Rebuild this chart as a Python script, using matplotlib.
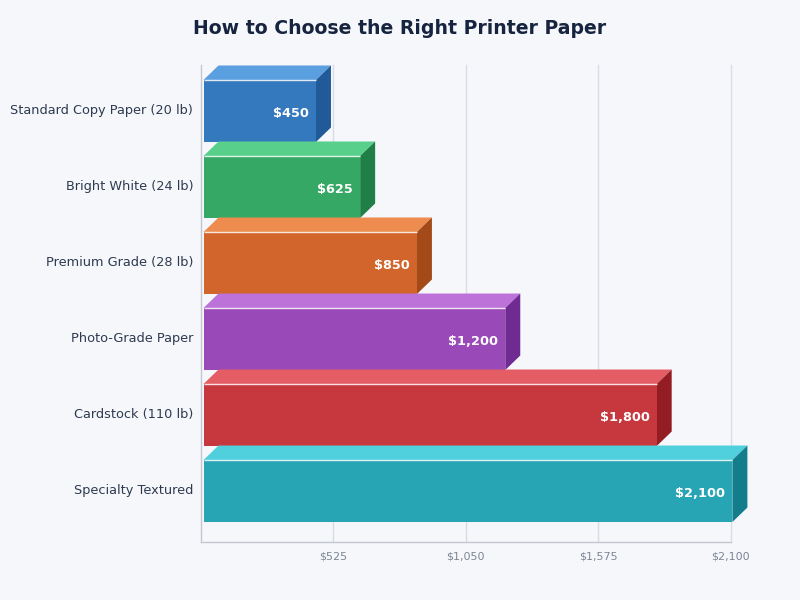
import matplotlib
matplotlib.use("Agg")
import matplotlib.pyplot as plt
from matplotlib.patches import Polygon
from matplotlib.transforms import ScaledTranslation

# data
papers = ['Standard Copy Paper (20 lb)', 'Bright White (24 lb)', 'Premium Grade (28 lb)',
          'Photo-Grade Paper', 'Cardstock (110 lb)', 'Specialty Textured']
costs = [450, 625, 850, 1200, 1800, 2100]
tick_values = [525, 1050, 1575, 2100]
tick_labels = ['$525', '$1,050', '$1,575', '$2,100']

front_colors = ['#3478be', '#35a865', '#d2652c', '#9a4ab8', '#c6383e', '#28a5b5']
top_colors = ['#5a9fe0', '#58d08c', '#ee8c50', '#bd72da', '#e45c64', '#50d0dc']
side_colors = ['#215a98', '#1f7f47', '#a34a18', '#6f2b92', '#931d22', '#147d8b']

bg = '#f6f7fb'
fig = plt.figure(figsize=(8, 6), dpi=100, facecolor=bg)
# axes box measured in pixels
ax = fig.add_axes([200.8 / 800, 58.5 / 600, 530 / 800, 476.5 / 600], facecolor=bg)
ax.set_xlim(0, 2100)
ax.set_ylim(5.664, -0.605)

px_x = 2100 / 530  # dollars per pixel
px_y = 1 / 76  # category units per pixel
depth_x = 15 * px_x
depth_y = 14.5 * px_y
left = 2.7 * px_x
start = 1.6 * px_x
half = 31 * px_y

ax.xaxis.grid(True, color='#dadde4', linewidth=1, clip_on=False)
ax.set_axisbelow(True)
ax.set_xticks(tick_values)
ax.set_xticklabels(tick_labels, fontsize=8, color='#7d8595')
ax.set_yticks(range(len(papers)))
ax.set_yticklabels(papers, fontsize=9.25, color='#2d3a50')
ax.tick_params(axis='x', length=0, pad=7)
ax.tick_params(axis='y', length=0, pad=5.4)
for label in ax.get_yticklabels():
    label.set_transform(label.get_transform() + ScaledTranslation(0, 2 / 72 * 0.72, fig.dpi_scale_trans))
for name in ['top', 'right']:
    ax.spines[name].set_visible(False)
for name in ['left', 'bottom']:
    ax.spines[name].set_color('#c3c8d0')
    ax.spines[name].set_linewidth(1)

for i, cost in enumerate(costs):
    right = start + cost
    top = i - half
    bottom = i + half
    z = 3 + i * 0.1
    # top face
    ax.add_patch(Polygon([(left, top), (right, top), (right + depth_x, top - depth_y), (left + depth_x, top - depth_y)],
                         facecolor=top_colors[i], edgecolor='none', clip_on=False, zorder=z))
    # side face
    ax.add_patch(Polygon([(right, top), (right + depth_x, top - depth_y), (right + depth_x, bottom - depth_y), (right, bottom)],
                         facecolor=side_colors[i], edgecolor='none', clip_on=False, zorder=z))
    # front face
    ax.add_patch(Polygon([(left, top), (right, top), (right, bottom), (left, bottom)],
                         facecolor=front_colors[i], edgecolor='none', clip_on=False, zorder=z))
    ax.plot([left, right], [top, top], color='white', linewidth=1, alpha=0.85, zorder=z + 0.01, clip_on=False,
            solid_capstyle='butt')
    ax.text(right - 7 * px_x, i + 2.3 * px_y, f'${cost:,}', ha='right', va='center', color='white',
            fontsize=9.3, fontweight='bold', zorder=z + 0.02)

fig.text(0.5, 1 - 28 / 600, 'How to Choose the Right Printer Paper', ha='center', va='center',
         fontsize=13.6, fontweight='bold', color='#16243f')

fig.savefig('out.png', dpi=100, facecolor=bg)
